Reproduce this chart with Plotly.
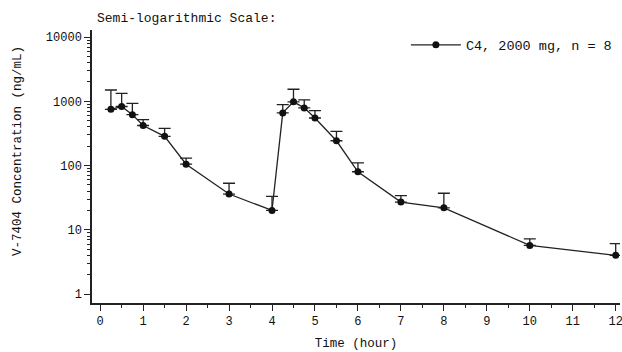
import plotly.graph_objects as go

time_h = [0.25, 0.5, 0.75, 1, 1.5, 2, 3, 4, 4.25, 4.5, 4.75, 5, 5.5, 6, 7, 8, 10, 12]
conc_mean = [750, 830, 620, 420, 285, 105, 36, 20, 660, 980, 790, 550, 243, 80, 27, 22, 5.7, 4.0]
conc_upper = [1500, 1330, 930, 520, 380, 130, 53, 33, 890, 1540, 1050, 715, 340, 110, 34, 37, 7.2, 6.1]
err_plus = [u - m for u, m in zip(conc_upper, conc_mean)]

y_ticks = [1, 10, 100, 1000, 10000]
y_minor = [m * 10 ** d for d in range(0, 4) for m in range(2, 10)]
x_ticks = list(range(0, 13))
x_minor = [i + 0.5 for i in range(0, 12)]

FONT = "Liberation Mono, Courier New, monospace"

fig = go.Figure()
fig.add_trace(go.Scatter(
    x=time_h, y=conc_mean, mode="lines+markers",
    name="C4, 2000 mg, n = 8",
    line=dict(color="#222222", width=1.3),
    marker=dict(color="#111111", size=7, symbol="circle"),
    error_y=dict(type="data", array=err_plus, arrayminus=[0] * len(err_plus),
                 symmetric=False, color="#222222", thickness=1.3, width=6),
))

fig.update_layout(
    width=622, height=352,
    margin=dict(l=92, r=2, t=30, b=49, autoexpand=False),
    paper_bgcolor="white", plot_bgcolor="white",
    font=dict(family=FONT, size=12, color="#111111"),
    title=dict(text="Semi-logarithmic Scale:", xref="container", yref="container",
               x=97 / 622, y=1 - 17 / 352, xanchor="left", yanchor="middle",
               font=dict(family=FONT, size=13, color="#111111")),
    showlegend=True,
    legend=dict(x=0.5945, y=0.945, xanchor="left", yanchor="middle", itemwidth=50,
                bgcolor="rgba(0,0,0,0)", font=dict(family=FONT, size=13.5, color="#111111")),
    xaxis=dict(range=[-0.19, 12.1], tickvals=x_ticks, ticks="outside", ticklen=6,
               tickwidth=1.3, tickcolor="#222222", showline=True, linecolor="#222222",
               linewidth=1.5, showgrid=False, zeroline=False, mirror=False, automargin=False,
               ticklabeloverflow="allow",
               minor=dict(tickvals=x_minor, ticks="outside", ticklen=3, tickcolor="#222222"),
               title=dict(text="Time (hour)", font=dict(family=FONT, size=12.5), standoff=10)),
    yaxis=dict(type="log", range=[-0.14, 4.11], tickvals=y_ticks,
               ticktext=[str(v) for v in y_ticks], ticks="outside", ticklen=6,
               tickwidth=1.3, tickcolor="#222222", showline=True, linecolor="#222222",
               linewidth=1.5, showgrid=False, zeroline=False, mirror=False, automargin=False,
               minor=dict(tickvals=y_minor, ticks="outside", ticklen=3, tickcolor="#222222")),
    annotations=[dict(text="V-7404 Concentration (ng/mL)", xref="paper", yref="paper",
                      x=-0.140, y=0.557, xanchor="center", yanchor="middle", textangle=-90,
                      showarrow=False, font=dict(family=FONT, size=12.5, color="#111111"))],
)

fig.write_html("out.html", post_script="document.body.style.margin='0';",
               config={"displayModeBar": False})
